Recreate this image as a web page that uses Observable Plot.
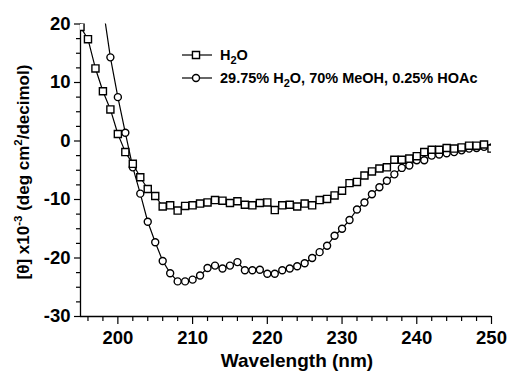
<!DOCTYPE html>
<html><head><meta charset="utf-8">
<script src="https://cdn.jsdelivr.net/npm/d3@7"></script>
<script src="https://cdn.jsdelivr.net/npm/@observablehq/plot@0.6"></script>
<style>
body{margin:0;background:#fff;}
#chart{width:508px;height:371px;}
</style></head><body><div id="chart"></div>
<script>
// ---- data ----
const h2oWavelength = [195,196,197,198,199,200,201,202,203,204,205,206,207,208,209,210,211,212,213,214,215,216,217,218,219,220,221,222,223,224,225,226,227,228,229,230,231,232,233,234,235,236,237,238,239,240,241,242,243,244,245,246,247,248,249,250];
const h2oTheta = [19.5,17.4,12.4,8.5,5.4,1.2,-1.9,-3.9,-6.2,-8.2,-9.4,-11.2,-11.0,-11.9,-11.1,-11.0,-10.7,-10.5,-10.1,-10.2,-10.6,-10.3,-10.9,-11.0,-10.6,-10.5,-11.8,-11.0,-10.9,-11.2,-10.7,-11.0,-10.1,-9.9,-9.3,-8.5,-7.2,-7.0,-5.9,-5.2,-4.7,-4.5,-3.2,-3.2,-3.0,-2.6,-1.9,-1.5,-1.5,-1.2,-1.3,-1.1,-0.8,-0.8,-0.6,-1.3];
const mixWavelength = [198,199,200,201,202,203,204,205,206,207,208,209,210,211,212,213,214,215,216,217,218,219,220,221,222,223,224,225,226,227,228,229,230,231,232,233,234,235,236,237,238,239,240,241,242,243,244,245,246,247,248,249,250];
const mixTheta = [23.0,14.3,7.5,1.4,-4.5,-9.0,-13.8,-17.3,-20.5,-22.6,-24.0,-24.0,-23.7,-23.0,-21.7,-21.3,-21.8,-21.3,-20.7,-22.1,-22.1,-22.0,-22.7,-22.7,-22.1,-21.8,-21.4,-20.9,-20.0,-19.0,-17.9,-16.2,-15.0,-13.5,-11.7,-10.5,-9.1,-7.9,-6.8,-5.7,-4.6,-4.2,-3.3,-3.3,-2.5,-2.3,-2.1,-1.9,-1.6,-1.3,-1.2,-1.0,-1.1];
const xTicks = [200,210,220,230,240,250];
const xMinorTicks = [196,198,202,204,206,208,212,214,216,218,222,224,226,228,232,234,236,238,242,244,246,248];
const yTicks = [20,10,0,-10,-20,-30];
const yMinorTicks = [17.5,15,12.5,7.5,5,2.5,-2.5,-5,-7.5,-12.5,-15,-17.5,-22.5,-25,-27.5];
const xDomain = [195,250];
const yDomain = [-30,20];
const xTitle = "Wavelength (nm)";
const seriesLabels = [
  [["H",""],["2","sub"],["O",""]],
  [["29.75% H",""],["2","sub"],["O, 70% MeOH, 0.25% HOAc",""]]
];
const seriesSymbols = ["square","circle"];

const h2o = h2oWavelength.map((w,i)=>({w, t:h2oTheta[i]}));
const mix = mixWavelength.map((w,i)=>({w, t:mixTheta[i]}));

const FONT = '"Liberation Sans", Arial, Helvetica, sans-serif';
const fmt = d => String(d);

const plot = Plot.plot({
  width: 508, height: 371,
  marginLeft: 80, marginRight: 17, marginTop: 23.5, marginBottom: 55,
  x: {domain: xDomain, label: null},
  y: {domain: yDomain, label: null},
  style: {fontFamily: FONT, fontWeight: "bold", fontSize: "18.5px", color: "#000", background: "#fff", overflow: "visible"},
  marks: [
    Plot.axisX(xMinorTicks, {tickSize: 5, text: null, label: null, strokeWidth: 1.2}),
    Plot.axisX(xTicks, {tickSize: 8, tickPadding: 6, tickFormat: fmt, label: null, fontSize: 18.5, fontWeight: "bold", strokeWidth: 1.2}),
    Plot.axisY(yMinorTicks, {tickSize: 4, text: null, label: null, strokeWidth: 1.2}),
    Plot.axisY(yTicks, {tickSize: 6, tickPadding: 4, tickFormat: fmt, label: null, fontSize: 18.5, fontWeight: "bold", strokeWidth: 1.2}),
    Plot.ruleY([yDomain[0]], {strokeWidth: 1.3}),
    Plot.ruleX([xDomain[0]], {strokeWidth: 1.3}),
    Plot.line(mix, {x: "w", y: "t", stroke: "#000", strokeWidth: 1.2, clip: true}),
    Plot.dot(mix, {x: "w", y: "t", r: 3.5, fill: "#fff", stroke: "#000", strokeWidth: 1.4, clip: true}),
    Plot.line(h2o, {x: "w", y: "t", stroke: "#000", strokeWidth: 1.2, clip: true}),
    Plot.dot(h2o, {x: "w", y: "t", symbol: "square", r: 4, fill: "#fff", stroke: "#000", strokeWidth: 1.4, clip: true})
  ]
});
document.getElementById("chart").appendChild(plot);

const svg = d3.select(plot);
// y axis title with superscripts
const yl = svg.append("text")
  .attr("transform", "translate(29,172) rotate(-90)")
  .attr("text-anchor", "middle")
  .attr("font-family", FONT).attr("font-weight", "bold").attr("font-size", 17).attr("fill", "#000");
yl.append("tspan").text("[θ] x10");
yl.append("tspan").attr("dy", -7).attr("font-size", 11.5).text("-3");
yl.append("tspan").attr("dy", 7).text(" (deg cm");
yl.append("tspan").attr("dy", -7).attr("font-size", 11.5).text("2");
yl.append("tspan").attr("dy", 7).text("/decimol)");

// x axis title
svg.append("text")
  .attr("x", 297).attr("y", 367).attr("text-anchor", "middle")
  .attr("font-family", FONT).attr("font-weight", "bold").attr("font-size", 19).attr("fill", "#000")
  .text(xTitle);

// legend
const rowsY = [55, 78];
seriesLabels.forEach((parts, i) => {
  const g = svg.append("g").attr("transform", `translate(0,${rowsY[i]})`);
  g.append("line").attr("x1", 182).attr("x2", 212).attr("y1", 0).attr("y2", 0).attr("stroke", "#000").attr("stroke-width", 1.2);
  g.append("path").attr("transform", "translate(196,0)")
    .attr("d", d3.symbol(seriesSymbols[i] === "square" ? d3.symbolSquare : d3.symbolCircle, seriesSymbols[i] === "square" ? 16*Math.PI : 3.5*3.5*Math.PI)())
    .attr("fill", "#fff").attr("stroke", "#000").attr("stroke-width", 1.4);
  const t = g.append("text").attr("x", 220).attr("y", 5.2).attr("text-anchor", "start")
    .attr("font-family", FONT).attr("font-weight", "bold").attr("font-size", 14.5).attr("fill", "#000");
  let n = 0;
  parts.forEach(([s, kind]) => {
    const ts = t.append("tspan").text(s);
    if (kind === "sub") ts.attr("dy", 4).attr("font-size", 11);
    else if (n > 0) ts.attr("dy", -4);
    n++;
  });
});
</script>
</body></html>
